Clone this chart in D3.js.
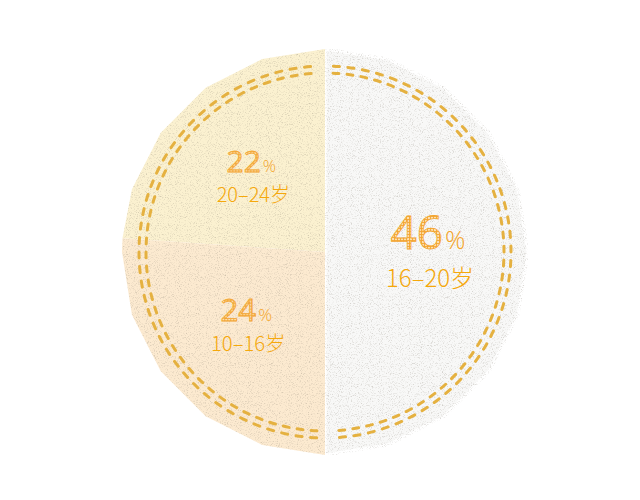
<!DOCTYPE html>
<html>
<head>
<meta charset="utf-8">
<script src="https://cdn.jsdelivr.net/npm/d3@7/dist/d3.min.js"></script>
<style>
  body { margin: 0; background: #fff; }
  svg { display: block; }
</style>
</head>
<body>
<div id="chart"></div>
<script>
// age groups and their shares (%)
var ages = ["16–20岁", "10–16岁", "20–24岁"];
var shares = [46, 24, 22];

// paper colours for each slice
var paperColors = ["#f8f8f7", "#fcead0", "#fbf1d0"];

var width = 640, height = 500;
var cx = 325, cy = 252, R = 203;
var ringOuter = 186, ringInner = 179;

var rows = shares.map(function(v, i) { return {share: v, age: ages[i], color: paperColors[i]}; });

var svg = d3.select("#chart").append("svg")
    .attr("width", width)
    .attr("height", height);

var defs = svg.append("defs");

// grainy paper texture
var f = defs.append("filter").attr("id", "grain")
    .attr("color-interpolation-filters", "sRGB")
    .attr("x", 0).attr("y", 0).attr("width", 1).attr("height", 1);
f.append("feTurbulence").attr("type", "fractalNoise").attr("baseFrequency", 0.9)
    .attr("numOctaves", 3).attr("seed", 7).attr("stitchTiles", "stitch").attr("result", "n");
f.append("feColorMatrix").attr("in", "n").attr("type", "matrix")
    .attr("values", "0 0 0 0 0.5  0 0 0 0 0.47  0 0 0 0 0.42  0.9 0 0 0 -0.47")
    .attr("result", "g");
f.append("feComposite").attr("in", "g").attr("in2", "SourceGraphic").attr("operator", "in").attr("result", "gc");
var fm = f.append("feMerge");
fm.append("feMergeNode").attr("in", "SourceGraphic");
fm.append("feMergeNode").attr("in", "gc");

// stitched fill for the big numbers
var pat = defs.append("pattern").attr("id", "stitch")
    .attr("patternUnits", "userSpaceOnUse").attr("width", 3).attr("height", 3);
pat.append("rect").attr("width", 3).attr("height", 3).attr("fill", "#fde0ae");
pat.append("path").attr("d", "M0 0.5H3M0.5 0V3")
    .attr("stroke", "#f3a531").attr("stroke-width", 0.9);

var pie = d3.pie().sort(null).value(function(d) { return d.share; });
var arcs = pie(rows);

var g = svg.append("g").attr("transform", "translate(" + cx + "," + cy + ")");

// polygonal "cut paper" slice
var radial = d3.lineRadial()
    .angle(function(p) { return p[0]; })
    .radius(function(p) { return p[1]; })
    .curve(d3.curveLinearClosed);

function slicePath(d) {
    var step = 2 * Math.PI / 20;
    var pts = [[0, 0], [d.startAngle, R]];
    for (var a = Math.ceil(d.startAngle / step + 1e-6) * step; a < d.endAngle - 1e-6; a += step) {
        pts.push([a, R]);
    }
    pts.push([d.endAngle, R]);
    return radial(pts);
}

// draw the small slices first, the big white one on top
var order = arcs.slice().reverse();
g.selectAll("path.slice")
    .data(order)
    .enter().append("path")
    .attr("class", "slice")
    .attr("d", slicePath)
    .attr("fill", function(d) { return d.data.color; })
    .attr("stroke", function(d, i) { return d.index === 0 ? "#fff" : "none"; })
    .attr("stroke-width", 3)
    .attr("stroke-linejoin", "round")
    .attr("filter", "url(#grain)");

// double dashed stitching
var first = arcs[0];
var pad = 0.045;
var segments = [[first.startAngle + pad, first.endAngle - pad], [first.endAngle + pad, 2 * Math.PI - pad]];
var nDash = 80;

[ringOuter, ringInner].forEach(function(r) {
    var s = 2 * Math.PI * r / nDash;
    segments.forEach(function(seg) {
        var p = d3.path();
        p.arc(0, 0, r, seg[0] - Math.PI / 2, seg[1] - Math.PI / 2);
        g.append("path")
            .attr("d", p.toString())
            .attr("fill", "none")
            .attr("stroke", "#e5b140")
            .attr("stroke-width", 3)
            .attr("stroke-linecap", "round")
            .attr("stroke-dasharray", (s * 0.42) + "," + (s * 0.58));
    });
});

// labels
var labelArc = d3.arc().innerRadius(105).outerRadius(105);
var numSize = d3.scaleLinear().domain([22, 46]).range([30, 46]);
var txtSize = d3.scaleLinear().domain([22, 46]).range([20, 24]);

var labels = g.selectAll("g.label")
    .data(arcs)
    .enter().append("g")
    .attr("class", "label")
    .attr("transform", function(d) { return "translate(" + labelArc.centroid(d) + ")"; });

var num = labels.append("text")
    .attr("text-anchor", "middle")
    .attr("x", -2)
    .attr("y", -3)
    .style("font-family", "'Open Sans', Lato, sans-serif");
num.append("tspan")
    .attr("fill", "url(#stitch)")
    .attr("stroke", "#f3a531")
    .attr("stroke-width", 0.8)
    .style("font-size", function(d) { return numSize(d.data.share) + "px"; })
    .text(function(d) { return d.data.share; });
num.append("tspan")
    .attr("fill", "#f4a52a")
    .attr("dx", 2)
    .style("font-weight", 300)
    .style("font-size", function(d) { return (numSize(d.data.share) * 0.55) + "px"; })
    .text("%");

labels.append("text")
    .attr("text-anchor", "middle")
    .attr("y", function(d) { return d.data.share > 40 ? 35 : 27; })
    .attr("fill", "#f5a80c")
    .style("font-family", "'Noto Sans CJK SC', sans-serif")
    .style("font-weight", 300)
    .style("font-size", function(d) { return txtSize(d.data.share) + "px"; })
    .text(function(d) { return d.data.age; });
</script>
</body>
</html>
